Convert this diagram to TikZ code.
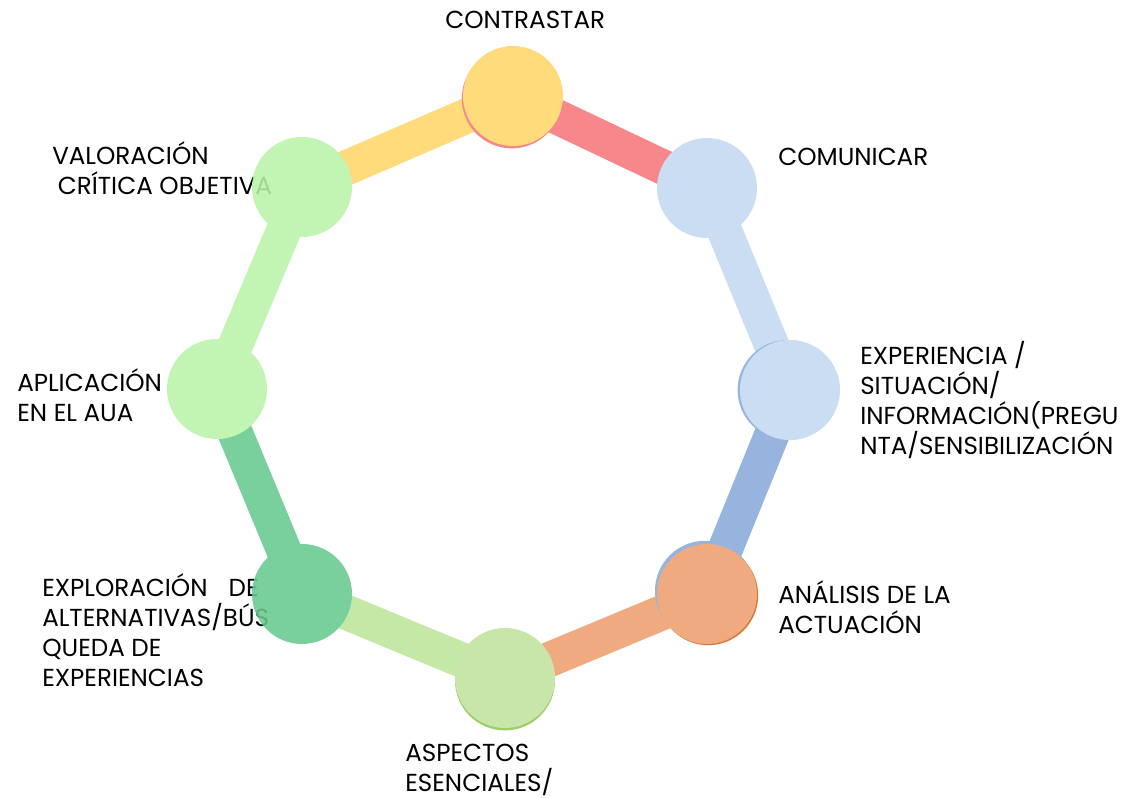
\documentclass[tikz,border=0pt]{standalone}
\usepackage{fontspec}
\setmainfont{Poppins}
\usetikzlibrary{positioning}

\definecolor{amarillo}{HTML}{FFD66A}
\definecolor{rojo}{HTML}{F6767A}
\definecolor{celeste}{HTML}{C4D8F1}
\definecolor{azul}{HTML}{88AADA}
\definecolor{naranja}{HTML}{ED9E6E}
\definecolor{naranjaosc}{HTML}{D2641E}
\definecolor{lima}{HTML}{C2E39E}
\definecolor{limaband}{HTML}{BCE598}
\definecolor{verdeosc}{HTML}{8CC850}
\definecolor{verdemar}{HTML}{68C990}
\definecolor{verdeclaro}{HTML}{B9F2AA}

\begin{document}
\begin{tikzpicture}[hub/.style={circle,minimum size=2.5cm,inner sep=0pt},
                    band/.style={line width=25pt},
                    etiqueta/.style={anchor=west,align=left,inner sep=0pt,
                                     font=\fontsize{17.5}{21.3}\selectfont}]
                \useasboundingbox (0,0) rectangle (28.075,19.95);
                % textos (debajo de los circulos)
                \node[etiqueta] (tcontrastar) at (11.125,19.45) {CONTRASTAR};
                \node[etiqueta] (tcomunicar) at (19.45,16.025) {COMUNICAR};
                \node[etiqueta] (texperiencia) at (21.5,9.96) {EXPERIENCIA /\\SITUACIÓN/\\INFORMACIÓN(PREGU\\NTA/SENSIBILIZACIÓN};
                \node[etiqueta] (tanalisis) at (19.45,4.775) {ANÁLISIS DE LA\\ACTUACIÓN};
                \node[etiqueta] (taspectos) at (10.125,0.7) {ASPECTOS\\ESENCIALES/};
                \node[etiqueta] (texploracion) at (1.05,4.2) {EXPLORACIÓN\hspace{15pt}DE\\ALTERNATIVAS/BÚS\\QUEDA DE\\EXPERIENCIAS};
                \node[etiqueta] (tvaloracion) at (1.3,15.75) {VALORACIÓN\\\hspace*{4pt}CRÍTICA OBJETIVA};
                \node[etiqueta] (taplicacion) at (0.425,10.075) {APLICACIÓN\\EN EL AUA};
                \begin{scope}[transparency group,opacity=0.88]
                \coordinate (contrastar) at (12.825,17.55);
                \coordinate (comunicar) at (17.675,15.25);
                \coordinate (experiencia) at (19.75,10.2);
                \coordinate (analisis) at (17.675,5.1);
                \coordinate (aspectos) at (12.625,3.0);
                \coordinate (exploracion) at (7.55,5.1);
                \coordinate (aplicacion) at (5.425,10.225);
                \coordinate (valoracion) at (7.55,15.275);
                \path[band]
                    (valoracion) edge[amarillo] (contrastar)
                    (contrastar) edge[rojo] (comunicar)
                    (comunicar) edge[celeste] (experiencia)
                    (experiencia) edge[azul] (analisis)
                    (analisis) edge[naranja] (aspectos)
                    (aspectos) edge[limaband] (exploracion)
                    (exploracion) edge[verdemar] (aplicacion)
                    (aplicacion) edge[verdeclaro] (valoracion)
                ;
                % bordes de color bajo algunos circulos
                \node[hub,fill=rojo] (bcontrastar) at ([shift={(-0.03,-0.06)}]contrastar) {};
                \node[hub,fill=azul] (bexperiencia) at ([shift={(-0.06,0)}]experiencia) {};
                \node[hub,fill=azul] (banalisis) at ([shift={(-0.05,0.08)}]analisis) {};
                \node[hub,fill=naranjaosc] (banalisis2) at ([shift={(0.03,-0.03)}]analisis) {};
                \node[hub,fill=verdeosc] (baspectos) at ([shift={(0,-0.06)}]aspectos) {};
                % circulos
                \node[hub,fill=amarillo] (ccontrastar) at (contrastar) {};
                \node[hub,fill=celeste] (ccomunicar) at (comunicar) {};
                \node[hub,fill=celeste] (cexperiencia) at (experiencia) {};
                \node[hub,fill=naranja] (canalisis) at (analisis) {};
                \node[hub,fill=lima] (caspectos) at (aspectos) {};
                \node[hub,fill=verdemar] (cexploracion) at (exploracion) {};
                \node[hub,fill=verdeclaro] (caplicacion) at (aplicacion) {};
                \node[hub,fill=verdeclaro] (cvaloracion) at (valoracion) {};
                \end{scope}
            \end{tikzpicture}
\end{document}
